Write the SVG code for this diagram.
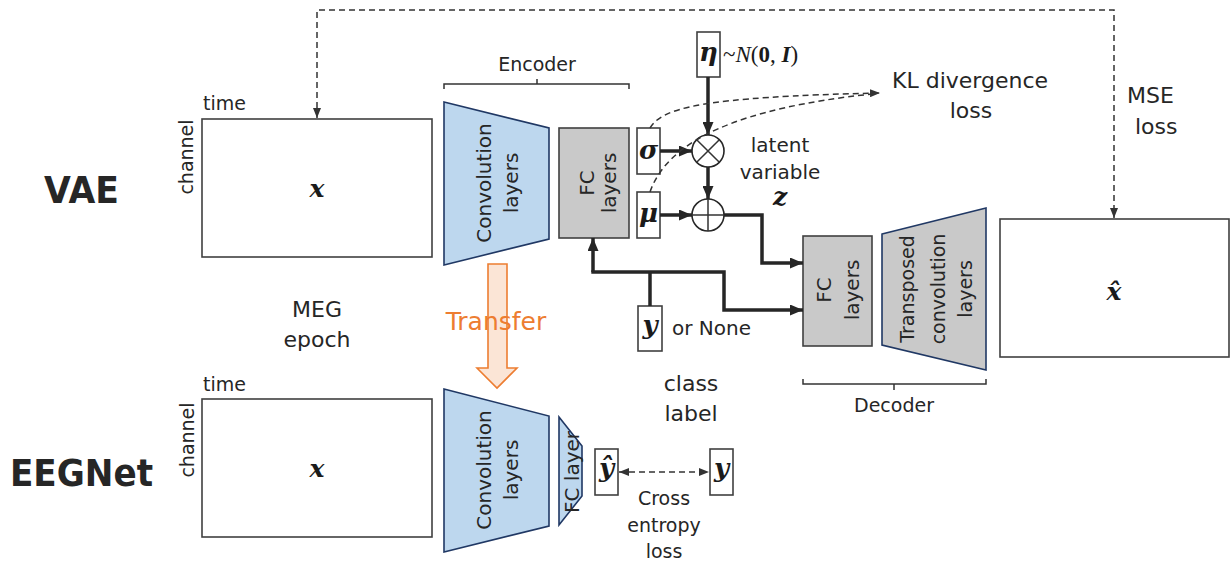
<svg xmlns="http://www.w3.org/2000/svg" width="1231" height="562" viewBox="0 0 1231 562">
  <style>
    .t { font-family: "DejaVu Sans", Verdana, sans-serif; fill: #262626; }
    .big { font-family: "DejaVu Sans", Verdana, sans-serif; font-weight: bold; fill: #262626; }
    .m { font-family: "DejaVu Serif", "Liberation Serif", serif; font-weight: bold; font-style: italic; fill: #1a1a1a; }
    .box { fill: #ffffff; stroke: #404040; stroke-width: 1.6; }
    .conv { fill: #bdd7ee; stroke: #203864; stroke-width: 1.6; }
    .fc { fill: #c9c9c9; stroke: #404040; stroke-width: 1.6; }
    .tconv { fill: #c9c9c9; stroke: #203864; stroke-width: 1.6; }
    .thick { fill: none; stroke: #262626; stroke-width: 3.5; }
    .dash { fill: none; stroke: #333333; stroke-width: 1.5; stroke-dasharray: 6 4; }
    .thin { fill: none; stroke: #333333; stroke-width: 1.5; }
  </style>
  <defs>
    <marker id="ah" markerUnits="userSpaceOnUse" markerWidth="13" markerHeight="11" refX="13" refY="5.5" orient="auto">
      <path d="M0,0 L13,5.5 L0,11 z" fill="#262626"/>
    </marker>
    <marker id="ahs" markerUnits="userSpaceOnUse" markerWidth="10" markerHeight="8" refX="10" refY="4" orient="auto-start-reverse">
      <path d="M0,0 L10,4 L0,8 z" fill="#333333"/>
    </marker>
  </defs>

  <rect width="1231" height="562" fill="#ffffff"/>

  <!-- row titles -->
  <text class="big" x="44" y="203" font-size="38" textLength="75" lengthAdjust="spacingAndGlyphs">VAE</text>
  <text class="big" x="10" y="486" font-size="37" textLength="143" lengthAdjust="spacingAndGlyphs">EEGNet</text>

  <!-- input epoch (VAE) -->
  <g id="vae-input">
    <rect class="box" x="202" y="119" width="230" height="138"/>
    <text class="t" x="203" y="110" font-size="19">time</text>
    <text class="t" font-size="19" text-anchor="middle" dominant-baseline="central" transform="translate(186,157) rotate(-90)">channel</text>
    <text class="m" x="317" y="197" font-size="25" text-anchor="middle">x</text>
  </g>

  <!-- MEG epoch label -->
  <g id="meg-label">
    <text class="t" x="317" y="317" font-size="22" text-anchor="middle">MEG</text>
    <text class="t" x="317" y="347" font-size="22" text-anchor="middle">epoch</text>
  </g>

  <!-- encoder -->
  <g id="encoder-conv">
    <polygon class="conv" points="444,102 549,128 549,239 444,265"/>
    <text class="t" font-size="20" text-anchor="middle" dominant-baseline="central" transform="translate(484,183) rotate(-90)">Convolution</text>
    <text class="t" font-size="20" text-anchor="middle" dominant-baseline="central" transform="translate(511,183) rotate(-90)">layers</text>
  </g>
  <g id="encoder-fc">
    <rect class="fc" x="559" y="128" width="70" height="110"/>
    <text class="t" font-size="20" text-anchor="middle" dominant-baseline="central" transform="translate(587,183) rotate(-90)">FC</text>
    <text class="t" font-size="20" text-anchor="middle" dominant-baseline="central" transform="translate(609,183) rotate(-90)">layers</text>
  </g>
  <g id="encoder-brace">
    <path class="thin" d="M444,89 V84 H629 V89 M537,84 V79"/>
    <text class="t" x="537" y="71" font-size="19" text-anchor="middle">Encoder</text>
  </g>

  <!-- latent parameters -->
  <g id="sigma">
    <rect class="box" x="637" y="128" width="23" height="46"/>
    <text class="m" x="648.5" y="159" font-size="26" text-anchor="middle">σ</text>
  </g>
  <g id="mu">
    <rect class="box" x="637" y="192" width="23" height="46"/>
    <text class="m" x="648.5" y="222" font-size="26" text-anchor="middle">μ</text>
  </g>
  <g id="eta">
    <rect class="box" x="697" y="32" width="23" height="45"/>
    <text class="m" x="708.5" y="61" font-size="26" text-anchor="middle">η</text>
    <text x="723" y="62" font-size="23" font-family="Liberation Serif, DejaVu Serif, serif" fill="#1a1a1a">~<tspan font-style="italic">N</tspan>(<tspan font-weight="bold">0</tspan>, <tspan font-weight="bold" font-style="italic">I</tspan>)</text>
  </g>
  <g id="mult">
    <circle cx="708" cy="151" r="16" fill="#ffffff" stroke="#262626" stroke-width="1.6"/>
    <path class="thin" d="M696.7,139.7 L719.3,162.3 M719.3,139.7 L696.7,162.3" stroke="#262626"/>
  </g>
  <g id="add">
    <circle cx="708" cy="215" r="16" fill="#ffffff" stroke="#262626" stroke-width="1.6"/>
    <path class="thin" d="M692,215 H724 M708,199 V231" stroke="#262626"/>
  </g>
  <g id="latent-label">
    <text class="t" x="780" y="152" font-size="20" text-anchor="middle">latent</text>
    <text class="t" x="780" y="179" font-size="20" text-anchor="middle">variable</text>
    <text class="m" x="780" y="205" font-size="25" text-anchor="middle">z</text>
  </g>
  <g id="kl-label">
    <text class="t" x="892" y="88" font-size="22">KL divergence</text>
    <text class="t" x="971" y="118" font-size="22" text-anchor="middle">loss</text>
  </g>

  <!-- class label input -->
  <g id="label-y">
    <rect class="box" x="638" y="306" width="24" height="45"/>
    <text class="m" x="650" y="334" font-size="26" text-anchor="middle">y</text>
    <text class="t" x="672" y="335" font-size="20">or None</text>
  </g>
  <g id="class-label">
    <text class="t" x="691" y="391" font-size="22" text-anchor="middle">class</text>
    <text class="t" x="691" y="421" font-size="22" text-anchor="middle">label</text>
  </g>

  <!-- decoder -->
  <g id="decoder-fc">
    <rect class="fc" x="803" y="236" width="69" height="110"/>
    <text class="t" font-size="20" text-anchor="middle" dominant-baseline="central" transform="translate(824,290) rotate(-90)">FC</text>
    <text class="t" font-size="20" text-anchor="middle" dominant-baseline="central" transform="translate(852,290) rotate(-90)">layers</text>
  </g>
  <g id="decoder-tconv">
    <polygon class="tconv" points="882,234 986,208 986,370 882,345"/>
    <text class="t" font-size="19" text-anchor="middle" dominant-baseline="central" transform="translate(907,289) rotate(-90)">Transposed</text>
    <text class="t" font-size="19" text-anchor="middle" dominant-baseline="central" transform="translate(938,289) rotate(-90)">convolution</text>
    <text class="t" font-size="19" text-anchor="middle" dominant-baseline="central" transform="translate(965,289) rotate(-90)">layers</text>
  </g>
  <g id="decoder-brace">
    <path class="thin" d="M803,379 V384 H986 V379 M894,384 V390"/>
    <text class="t" x="894" y="412" font-size="19" text-anchor="middle">Decoder</text>
  </g>

  <!-- reconstruction -->
  <g id="vae-output">
    <rect class="box" x="1000" y="219" width="229" height="138"/>
    <text class="m" x="1114" y="300" font-size="25" text-anchor="middle">x̂</text>
  </g>
  <g id="mse-label">
    <text class="t" x="1127" y="103" font-size="22">MSE</text>
    <text class="t" x="1135" y="134" font-size="22">loss</text>
  </g>

  <!-- transfer of convolution weights -->
  <g id="transfer">
    <polygon points="488,264 507,264 507,368 517,368 497,388 477,368 488,368" fill="#fbe5d6" stroke="#ed7d31" stroke-width="1.6"/>
    <text x="496" y="330" font-size="25" text-anchor="middle" font-family="DejaVu Sans, Verdana, sans-serif" fill="#ed7d31">Transfer</text>
  </g>

  <!-- EEGNet branch -->
  <g id="eeg-input">
    <rect class="box" x="202" y="399" width="230" height="138"/>
    <text class="t" x="203" y="391" font-size="19">time</text>
    <text class="t" font-size="19" text-anchor="middle" dominant-baseline="central" transform="translate(187,440) rotate(-90)">channel</text>
    <text class="m" x="317" y="477" font-size="25" text-anchor="middle">x</text>
  </g>
  <g id="eeg-conv">
    <polygon class="conv" points="444,389 549,416 549,526 444,552"/>
    <text class="t" font-size="20" text-anchor="middle" dominant-baseline="central" transform="translate(484,470) rotate(-90)">Convolution</text>
    <text class="t" font-size="20" text-anchor="middle" dominant-baseline="central" transform="translate(511,470) rotate(-90)">layers</text>
  </g>
  <g id="eeg-fc">
    <polygon class="conv" points="559,417 582,446 582,496 559,525"/>
    <text class="t" font-size="20" text-anchor="middle" dominant-baseline="central" transform="translate(572,472) rotate(-90)">FC layer</text>
  </g>
  <g id="y-hat">
    <rect class="box" x="595" y="449" width="23" height="46"/>
    <text class="m" x="606.5" y="477" font-size="26" text-anchor="middle">ŷ</text>
  </g>
  <g id="y-true">
    <rect class="box" x="710" y="449" width="23" height="46"/>
    <text class="m" x="721.5" y="477" font-size="26" text-anchor="middle">y</text>
  </g>
  <g id="ce-label">
    <text class="t" x="664" y="505" font-size="19" text-anchor="middle">Cross</text>
    <text class="t" x="664" y="532" font-size="19" text-anchor="middle">entropy</text>
    <text class="t" x="664" y="558" font-size="19" text-anchor="middle">loss</text>
  </g>

  <!-- connectors -->
  <g id="connectors">
    <path class="thick" d="M708,77 V135" marker-end="url(#ah)"/>
    <path class="thick" d="M660,151 H692" marker-end="url(#ah)"/>
    <path class="thick" d="M708,167 V199" marker-end="url(#ah)"/>
    <path class="thick" d="M660,215 H692" marker-end="url(#ah)"/>
    <path class="thick" d="M724,215 H762 V263 H803" marker-end="url(#ah)"/>
    <path class="thick" d="M650,306 V272"/>
    <path class="thick" d="M593,272 V238" marker-end="url(#ah)"/>
    <path class="thick" d="M591.3,272 H724 V310 H803" marker-end="url(#ah)"/>
    <path class="dash" d="M317,118 V10 H1114 V218" marker-start="url(#ahs)" marker-end="url(#ahs)"/>
    <path class="dash" d="M650,128 C662,108 700,97 880,93" marker-end="url(#ahs)"/>
    <path class="dash" d="M650,192 C668,140 740,108 872,94"/>
    <path class="dash" d="M619,472 H709" marker-start="url(#ahs)" marker-end="url(#ahs)"/>
  </g>
</svg>
